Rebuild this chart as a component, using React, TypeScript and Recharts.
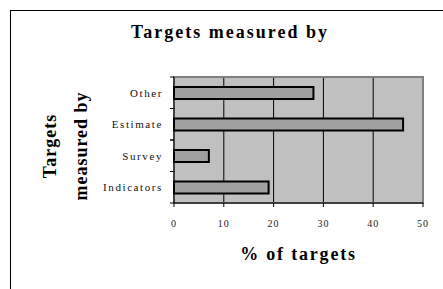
import { BarChart, Bar, XAxis, YAxis, CartesianGrid, ReferenceArea, Label } from "recharts";

const categories = ["Other", "Estimate", "Survey", "Indicators"];
const percentOfTargets = [28, 46, 7, 19];
const xTicks = [0, 10, 20, 30, 40, 50];

const data = categories.map((name, i) => ({ name, value: percentOfTargets[i] }));

const SERIF = '"Liberation Serif", "Times New Roman", serif';
const MARGIN = { top: 77, right: 20, bottom: 56, left: 74 };
const Y_AXIS_WIDTH = 100;
const X_AXIS_HEIGHT = 30;
const CHART_H = 289;
const AXIS_X = MARGIN.left + Y_AXIS_WIDTH;
const AXIS_Y = CHART_H - MARGIN.bottom - X_AXIS_HEIGHT;
const HALF_BAND = (AXIS_Y - MARGIN.top) / categories.length / 2;
const TICK_SIZE = 4;

// category ticks sit on the band edges, not the band centres
function renderCategoryTick(props: any) {
  const { y, payload, index } = props;
  return (
    <g key={`cat-${index}`}>
      <line x1={AXIS_X - TICK_SIZE} x2={AXIS_X} y1={y - HALF_BAND} y2={y - HALF_BAND} stroke="#000" />
      <line x1={AXIS_X - TICK_SIZE} x2={AXIS_X} y1={y + HALF_BAND} y2={y + HALF_BAND} stroke="#000" />
      <text
        x={AXIS_X - 11}
        y={y}
        dy={4}
        textAnchor="end"
        fontFamily={SERIF}
        fontSize={11}
        letterSpacing={1.6}
        fill="#111"
      >
        {payload.value}
      </text>
    </g>
  );
}

function renderValueTick(props: any) {
  const { x, payload, index } = props;
  return (
    <g key={`val-${index}`}>
      <line x1={x} x2={x} y1={AXIS_Y} y2={AXIS_Y + TICK_SIZE} stroke="#000" />
      <text
        x={x}
        y={AXIS_Y + 24}
        textAnchor="middle"
        fontFamily={SERIF}
        fontSize={10}
        letterSpacing={1}
        fill="#222"
      >
        {payload.value}
      </text>
    </g>
  );
}

export default function App() {
  return (
    <div style={{ position: "absolute", left: 0, top: 0, width: 443, height: 289, overflow: "hidden", background: "#fff" }}>
      <div
        style={{
          position: "absolute", left: 10, top: 10, width: 460, height: 300,
          borderLeft: "1px solid #000", borderTop: "1px solid #000",
        }}
      />
      <BarChart
        width={443}
        height={CHART_H}
        data={data}
        layout="vertical"
        margin={MARGIN}
        barCategoryGap={0}
        style={{ position: "absolute", left: 0, top: 0 }}
      >
        <CartesianGrid fill="#c0c0c0" stroke="#000" horizontal={false} vertical />
        <ReferenceArea x1={0} x2={50} fill="none" stroke="#808080" strokeWidth={2} ifOverflow="extendDomain" />
        <XAxis
          type="number"
          domain={[0, 50]}
          ticks={xTicks}
          interval={0}
          height={X_AXIS_HEIGHT}
          axisLine={{ stroke: "#000" }}
          tickLine={false}
          tick={renderValueTick}
        >
          <Label
            value="% of targets"
            position="insideBottom"
            offset={-27}
            style={{ fontFamily: SERIF, fontSize: 18, fontWeight: "bold", fill: "#000", letterSpacing: 1.8 }}
          />
        </XAxis>
        <YAxis
          type="category"
          dataKey="name"
          width={Y_AXIS_WIDTH}
          axisLine={{ stroke: "#000" }}
          tickLine={false}
          tick={renderCategoryTick}
        />
        <Bar
          dataKey="value"
          fill="#a0a0a0"
          stroke="#000"
          strokeWidth={2}
          barSize={12}
          isAnimationActive={false}
        />
      </BarChart>
      <svg width={443} height={289} style={{ position: "absolute", left: 0, top: 0, pointerEvents: "none" }}>
        <text
          x={230}
          y={38}
          textAnchor="middle"
          fontFamily={SERIF}
          fontSize={18}
          fontWeight="bold"
          letterSpacing={2}
          fill="#000"
        >
          Targets measured by
        </text>
        <g transform="translate(0,146) rotate(-90)" fontFamily={SERIF} fontSize={18} fontWeight="bold" fill="#000" textAnchor="middle" letterSpacing={1}>
          <text x={0} y={56}>Targets</text>
          <text x={0} y={87}>measured by</text>
        </g>
      </svg>
    </div>
  );
}
